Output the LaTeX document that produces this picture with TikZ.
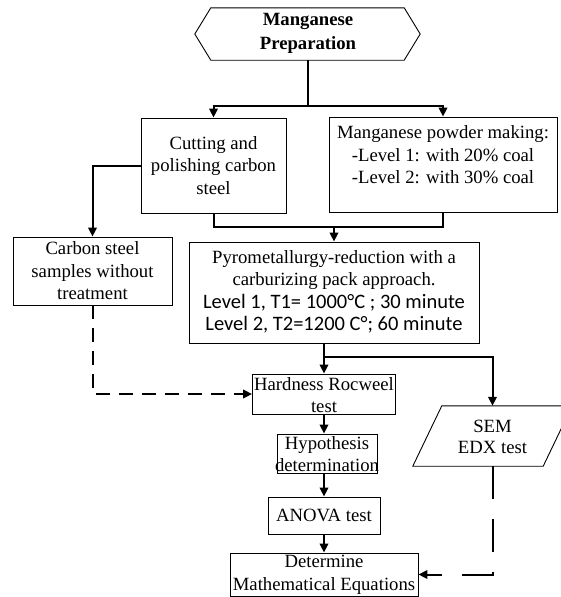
\documentclass[tikz,border=0pt]{standalone}
\usepackage{fontspec}
\setmainfont{Liberation Serif}
\newfontfamily\calib{Carlito}
\usetikzlibrary{arrows.meta,calc}
\begin{document}
\begin{tikzpicture}[x=1pt,y=-1pt,
  box/.style={draw, line width=0.9pt, inner sep=0pt},
  txt/.style={font=\fontsize{18.7}{22.5}\selectfont, align=center, inner sep=0pt},
  conn/.style={line width=2pt},
  arr/.style={conn, -{Triangle[length=9pt,width=8.5pt]}},
  dashA/.style={arr, dash pattern=on 14pt off 9pt},
  dashB/.style={arr, dash pattern=on 33pt off 20pt}]
\clip (0,0) rectangle (561,597);
% hexagon
\node[inner sep=0pt, minimum width=225pt, minimum height=52pt] (prep) at (307.5,34) {};
\draw[line width=0.9pt] (prep.west) -- ($(prep.north west)+(16,0)$) -- ($(prep.north east)+(-16,0)$)
  -- (prep.east) -- ($(prep.south east)+(-16,0)$) -- ($(prep.south west)+(16,0)$) -- cycle;
\node[txt, font=\fontsize{18.7}{24}\selectfont\bfseries] at (308,33) {Manganese\\Preparation};
% boxes
\node[box, minimum width=145pt, minimum height=95pt] (cut) at (213.5,165.5) {};
\node[txt] at (cut.center) {Cutting and\\polishing carbon\\steel};
\node[box, minimum width=228pt, minimum height=95pt] (mnp) at (443,164.5) {};
\node[txt] at (443,155) {Manganese powder making:\\-Level 1: with 20\% coal\\-Level 2: with 30\% coal};
\node[box, minimum width=159pt, minimum height=68pt] (carbon) at (92.5,271) {};
\node[txt] at (carbon.center) {Carbon steel\\samples without\\treatment};
\node[box, minimum width=290pt, minimum height=101pt] (pyro) at (334,292.5) {};
\node[txt] at (334,292) {Pyrometallurgy-reduction with a\\carburizing pack approach.\\
  {\calib\fontsize{20.5}{22.5}\selectfont Level 1, T1= 1000°C ; 30 minute}\\
  {\calib\fontsize{20.5}{22.5}\selectfont Level 2, T2=1200 C°; 60 minute}};
\node[box, minimum width=143pt, minimum height=40pt] (hard) at (324,394) {};
\node[txt] at (324,395) {Hardness Rocweel\\test};
\node[box, minimum width=100pt, minimum height=39pt] (hyp) at (327,453.5) {};
\node[txt] at (327,454) {Hypothesis\\determination};
\node[box, minimum width=112pt, minimum height=37pt] (anova) at (324,515.5) {};
\node[txt] at (anova.center) {ANOVA test};
\node[box, minimum width=188pt, minimum height=43pt] (det) at (324,574.5) {};
\node[txt] at (324,575) {Determine\\Mathematical Equations};
% parallelogram
\node[inner sep=0pt, minimum width=130pt, minimum height=60pt] (sem) at (492.5,436) {};
\draw[line width=0.9pt] ($(sem.north west)+(14.5,0)$) -- ($(sem.north east)+(14.5,0)$)
  -- ($(sem.south east)+(-14.5,0)$) -- ($(sem.south west)+(-14.5,0)$) -- cycle;
\node[txt, font=\fontsize{18.7}{20.5}\selectfont] at (492.5,437) {SEM\\EDX test};
% connectors
\coordinate (j1) at (307.5,106);
\draw[conn] (prep.south) -- (j1);
\draw[arr] (j1) -| (cut.north);
\draw[arr] (j1) -| (mnp.north);
\draw[arr] (cut.west) -| (carbon.north);
\coordinate (j2) at (334,227);
\draw[conn] (cut.south) |- (j2) -| (mnp.south);
\draw[arr] (j2) -- (pyro.north);
\coordinate (pyo) at (pyro.south -| hard.north);
\coordinate (j3) at (324,357);
\draw[arr] (pyo) -- (hard.north);
\draw[arr] (j3) -| (sem.north);
\draw[arr] (hard.south) -- (hard.south |- hyp.north);
\draw[arr] (hyp.south -| anova.north) -- (anova.north);
\draw[arr] (anova.south) -- (det.north);
\draw[dashA] (carbon.south) |- (hard.west);
\draw[dashB] (sem.south) |- (det.east);
\end{tikzpicture}
\end{document}
